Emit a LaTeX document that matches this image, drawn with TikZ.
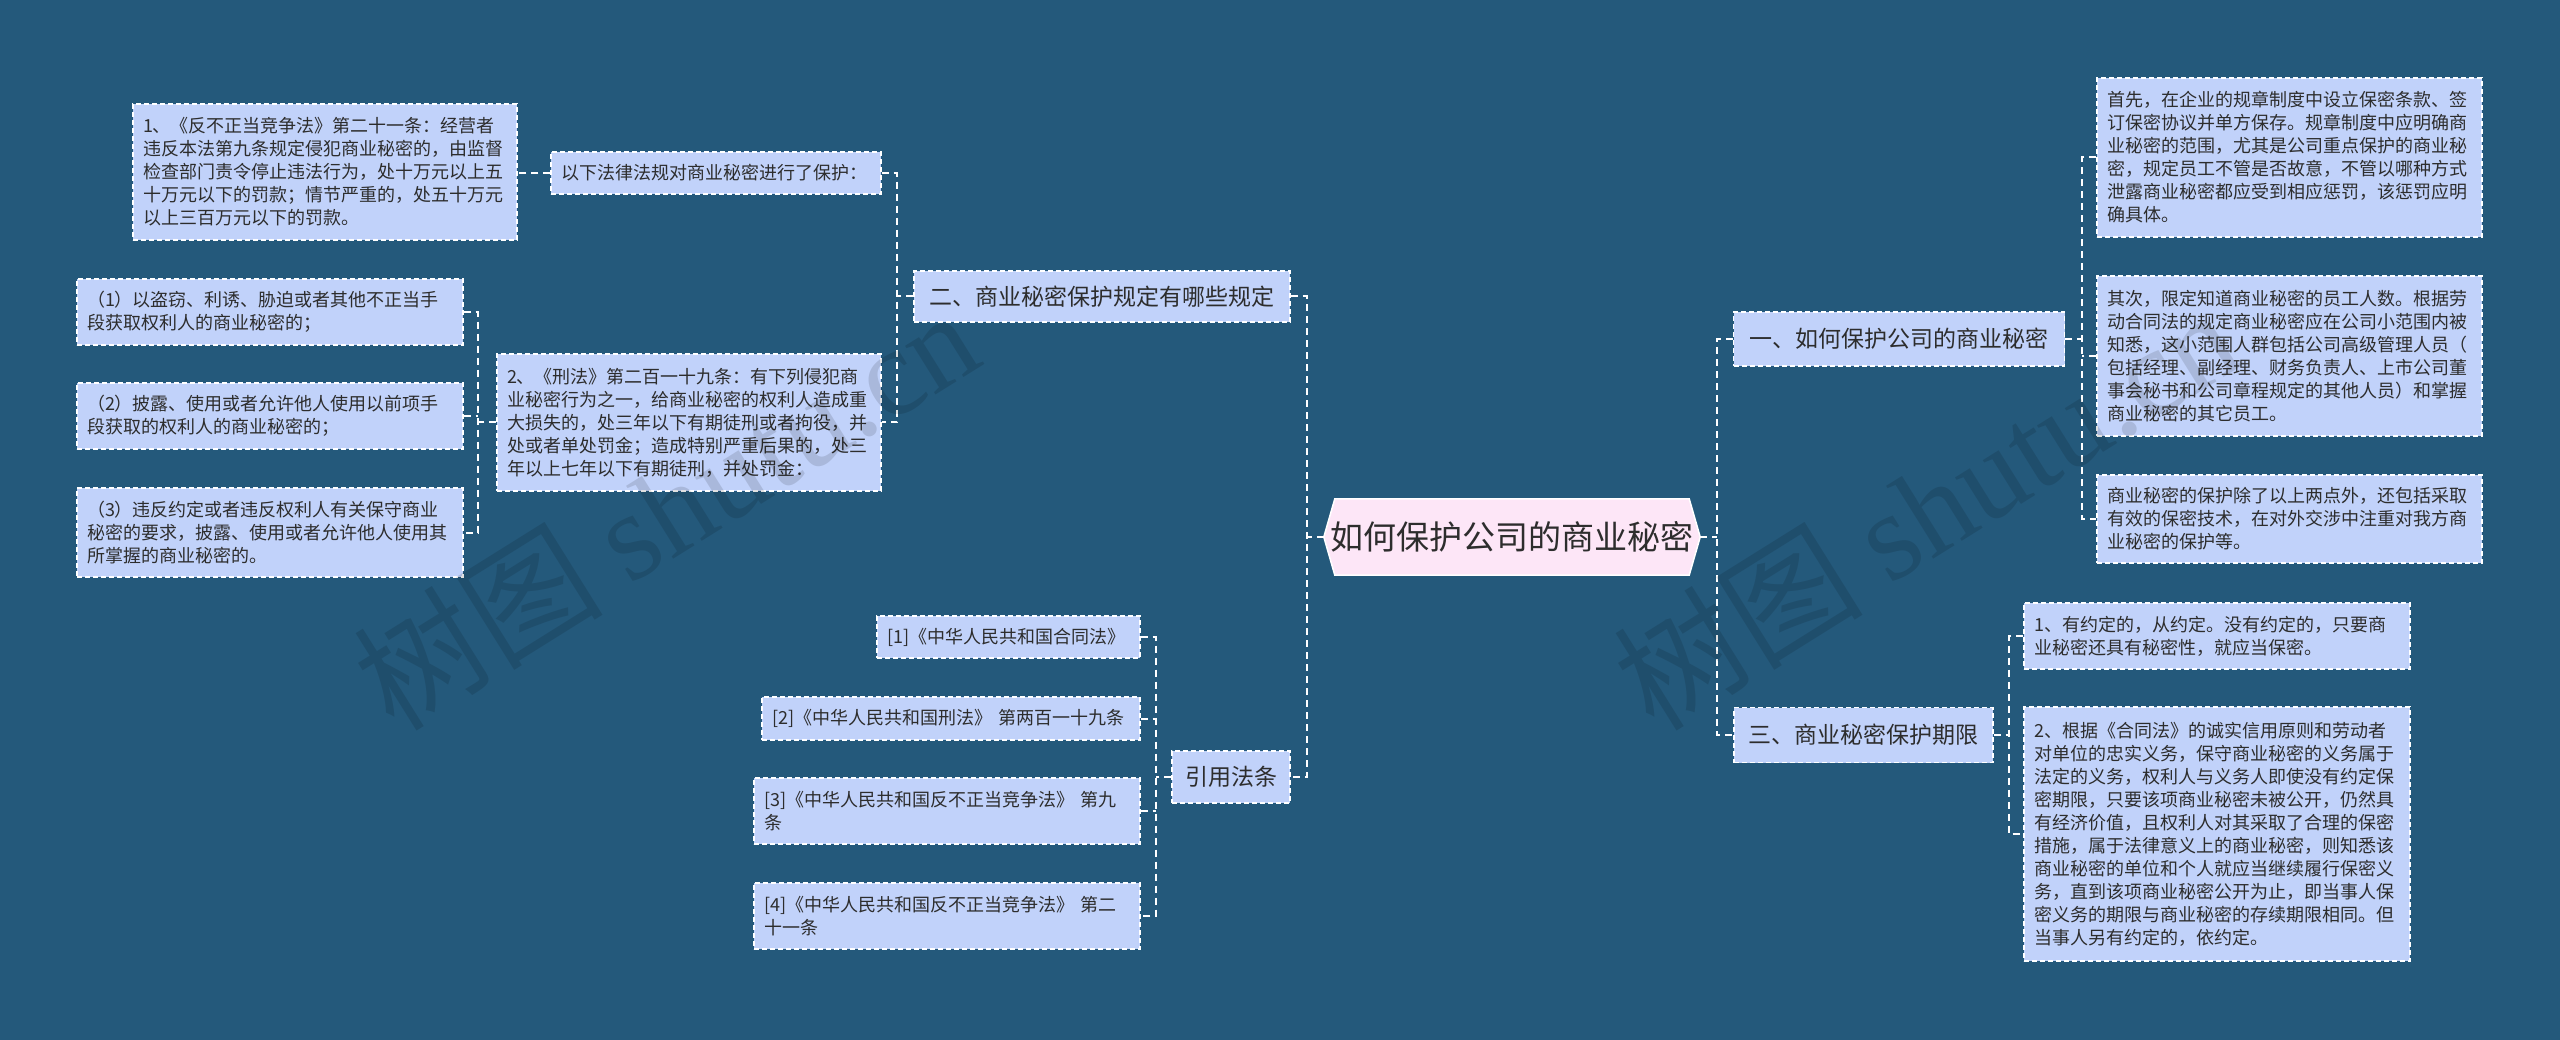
\documentclass[tikz,border=0pt]{standalone}
\usepackage{fontspec}
\setmainfont{Noto Sans CJK SC}
\newfontfamily\wmlatin{Liberation Serif}
\usetikzlibrary{backgrounds}
\definecolor{bgc}{RGB}{36,89,123}
\definecolor{leafc}{RGB}{193,210,250}
\definecolor{rootc}{RGB}{253,230,247}
\definecolor{txt}{RGB}{45,45,45}
\begin{document}
\begin{tikzpicture}[x=1pt,y=-1pt,
  box/.style={draw=white, fill=leafc, line width=1.2pt, dash pattern=on 5pt off 3pt, text=txt},
  leaf/.style={box, font=\fontsize{18}{23}\selectfont, align=left, inner xsep=10pt, inner ysep=0pt},
  brn/.style={box, font=\fontsize{23}{28}\selectfont, inner sep=0pt},
  conn/.style={draw=white, line width=2pt, dash pattern=on 7pt off 5pt},
  wm/.style={text=black, opacity=0.12, rotate=32, font=\fontsize{125}{125}\selectfont}
]
% root
\node[minimum width=376pt, minimum height=76pt, inner sep=0pt, font=\fontsize{33}{40}\selectfont, text=txt] (root) at (1512,537) {如何保护公司的商业秘密};
\begin{scope}[on background layer]
\fill[bgc] (0,0) rectangle (2560,1040);
\filldraw[fill=rootc, draw=white, line width=1.5pt] (root.west) -- ([xshift=11pt]root.north west) -- ([xshift=-11pt]root.north east) -- (root.east) -- ([xshift=-11pt]root.south east) -- ([xshift=11pt]root.south west) -- cycle;
\end{scope}

% branches
\node[brn, minimum width=376pt, minimum height=51pt] (b2) at (1102,296.5) {二、商业秘密保护规定有哪些规定};
\node[brn, minimum width=118pt, minimum height=52pt] (yf) at (1231,777) {引用法条};
\node[brn, minimum width=331pt, minimum height=54pt] (b1) at (1899,339) {一、如何保护公司的商业秘密};
\node[brn, minimum width=259pt, minimum height=55pt] (b3) at (1863.5,735) {三、商业秘密保护期限};

% left subtree
\node[leaf, text width=310pt, minimum height=42pt] (p0) at (716,173) {以下法律法规对商业秘密进行了保护：};
\node[leaf, text width=364pt, minimum height=136pt] (L1) at (325,172) {1、《反不正当竞争法》第二十一条：经营者\\违反本法第九条规定侵犯商业秘密的，由监督\\检查部门责令停止违法行为，处十万元以上五\\十万元以下的罚款；情节严重的，处五十万元\\以上三百万元以下的罚款。};
\node[leaf, text width=364pt, minimum height=137pt] (p2) at (689,422.5) {2、《刑法》第二百一十九条：有下列侵犯商\\业秘密行为之一，给商业秘密的权利人造成重\\大损失的，处三年以下有期徒刑或者拘役，并\\处或者单处罚金；造成特别严重后果的，处三\\年以上七年以下有期徒刑，并处罚金：};
\node[leaf, text width=366pt, minimum height=66pt] (c1) at (270,312) {（1）以盗窃、利诱、胁迫或者其他不正当手\\段获取权利人的商业秘密的；};
\node[leaf, text width=366pt, minimum height=66pt] (c2) at (270,416) {（2）披露、使用或者允许他人使用以前项手\\段获取的权利人的商业秘密的；};
\node[leaf, text width=366pt, minimum height=89pt] (c3) at (270,532.5) {（3）违反约定或者违反权利人有关保守商业\\秘密的要求，披露、使用或者允许他人使用其\\所掌握的商业秘密的。};

% references
\node[leaf, text width=243pt, minimum height=42pt] (r1) at (1008.5,637) {[1]《中华人民共和国合同法》};
\node[leaf, text width=358pt, minimum height=43pt] (r2) at (951,718.5) {[2]《中华人民共和国刑法》 第两百一十九条};
\node[leaf, text width=366pt, minimum height=66pt] (r3) at (947,811) {[3]《中华人民共和国反不正当竞争法》 第九\\条};
\node[leaf, text width=366pt, minimum height=66pt] (r4) at (947,916) {[4]《中华人民共和国反不正当竞争法》 第二\\十一条};

% right subtree
\node[leaf, text width=365pt, minimum height=159pt] (s1) at (2289.5,157.5) {首先，在企业的规章制度中设立保密条款、签\\订保密协议并单方保存。规章制度中应明确商\\业秘密的范围，尤其是公司重点保护的商业秘\\密，规定员工不管是否故意，不管以哪种方式\\泄露商业秘密都应受到相应惩罚，该惩罚应明\\确具体。};
\node[leaf, text width=365pt, minimum height=160pt] (s2) at (2289.5,356) {其次，限定知道商业秘密的员工人数。根据劳\\动合同法的规定商业秘密应在公司小范围内被\\知悉，这小范围人群包括公司高级管理人员（\\包括经理、副经理、财务负责人、上市公司董\\事会秘书和公司章程规定的其他人员）和掌握\\商业秘密的其它员工。};
\node[leaf, text width=365pt, minimum height=88pt] (s3) at (2289.5,519) {商业秘密的保护除了以上两点外，还包括采取\\有效的保密技术，在对外交涉中注重对我方商\\业秘密的保护等。};
\node[leaf, text width=366pt, minimum height=66pt] (t1) at (2217,636) {1、有约定的，从约定。没有约定的，只要商\\业秘密还具有秘密性，就应当保密。};
\node[leaf, text width=366pt, minimum height=254pt] (t2) at (2217,834) {2、根据《合同法》的诚实信用原则和劳动者\\对单位的忠实义务，保守商业秘密的义务属于\\法定的义务，权利人与义务人即使没有约定保\\密期限，只要该项商业秘密未被公开，仍然具\\有经济价值，且权利人对其采取了合理的保密\\措施，属于法律意义上的商业秘密，则知悉该\\商业秘密的单位和个人就应当继续履行保密义\\务，直到该项商业秘密公开为止，即当事人保\\密义务的期限与商业秘密的存续期限相同。但\\当事人另有约定的，依约定。};

% junctions
\coordinate (jl) at (1307,537);
\coordinate (jr) at (1717,537);
\coordinate (j2) at (897,296.5);
\coordinate (jp) at (478,422.5);
\coordinate (jy) at (1156,777);
\coordinate (j1) at (2082,339);
\coordinate (j3) at (2009,735);

% connectors
\draw[conn] (root.west) -- (jl);
\draw[conn] (b2.east) -- (b2.east -| jl) -- (yf.east -| jl) -- (yf.east);
\draw[conn] (root.east) -- (jr);
\draw[conn] (b1.west) -- (b1.west -| jr) -- (b3.west -| jr) -- (b3.west);

\draw[conn] (b2.west) -- (j2);
\draw[conn] (p0.east) -- (p0.east -| j2) -- (p2.east -| j2) -- (p2.east);
\draw[conn] (p0.west) -- (p0.west -| L1.east);
\draw[conn] (p2.west) -- (jp);
\draw[conn] (c1.east) -- (c1.east -| jp) -- (c3.east -| jp) -- (c3.east);
\draw[conn] (c2.east) -- (c2.east -| jp);

\draw[conn] (yf.west) -- (jy);
\draw[conn] (r1.east) -- (r1.east -| jy) -- (r4.east -| jy) -- (r4.east);
\draw[conn] (r2.east) -- (r2.east -| jy);
\draw[conn] (r3.east) -- (r3.east -| jy);

\draw[conn] (b1.east) -- (j1);
\draw[conn] (s1.west) -- (s1.west -| j1) -- (s3.west -| j1) -- (s3.west);
\draw[conn] (s2.west) -- (s2.west -| j1);

\draw[conn] (b3.east) -- (j3);
\draw[conn] (t1.west) -- (t1.west -| j3) -- (t2.west -| j3) -- (t2.west);

% watermarks
\node[wm] (wm1) at (665,508) {树图 {\wmlatin shutu.cn}};
\node[wm] (wm2) at (1925,508) {树图 {\wmlatin shutu.cn}};
\end{tikzpicture}
\end{document}
